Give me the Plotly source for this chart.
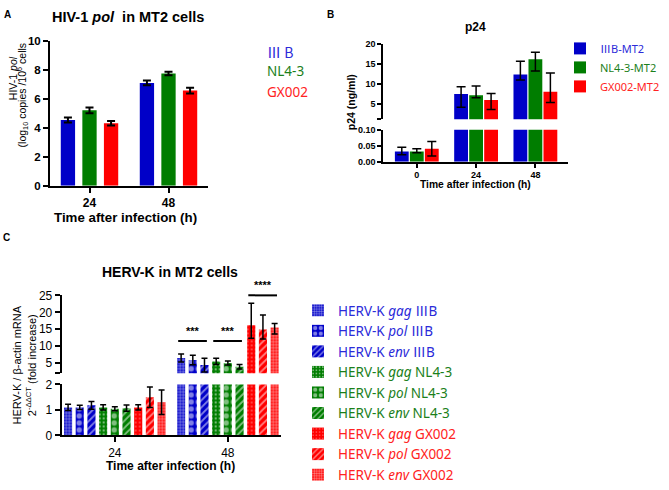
import plotly.graph_objects as go

W, H = 669, 490

# -- DATOS --

# Panel A: HIV-1 pol (log10 copias / 10^6 células)
a_tiempos = ["24", "48"]
a_iiib = [4.53, 7.09]
a_iiib_err = [0.17, 0.16]
a_nl43 = [5.20, 7.73]
a_nl43_err = [0.20, 0.12]
a_gx002 = [4.31, 6.56]
a_gx002_err = [0.15, 0.20]

# Panel B: p24 (ng/ml), barras de error asimétricas
b_tiempos = ["0", "24", "48"]
b_iiib = [0.032, 7.5, 12.4]
b_iiib_sup = [0.013, 1.8, 3.3]
b_iiib_inf = [0.010, 3.3, 1.4]
b_nl43 = [0.032, 7.2, 16.2]
b_nl43_sup = [0.009, 2.3, 1.8]
b_nl43_inf = [0.004, 0.6, 2.9]
b_gx002 = [0.041, 6.0, 8.1]
b_gx002_sup = [0.022, 1.65, 4.7]
b_gx002_inf = [0.023, 2.35, 2.7]

# Panel C: HERV-K / beta-actina (2^-ddCT)
c_tiempos = ["24", "48"]
c_iiib_gag = [1.10, 6.5]
c_iiib_gag_err = [0.12, 1.2]
c_iiib_pol = [1.10, 5.9]
c_iiib_pol_err = [0.08, 1.4]
c_iiib_env = [1.18, 4.4]
c_iiib_env_err = [0.15, 2.0]
c_nl43_gag = [1.10, 5.5]
c_nl43_gag_err = [0.10, 0.9]
c_nl43_pol = [1.05, 5.0]
c_nl43_pol_err = [0.08, 0.6]
c_nl43_env = [1.07, 3.9]
c_nl43_env_err = [0.12, 0.65]
c_gx_gag = [1.10, 16.2]
c_gx_gag_err = [0.10, 6.5]
c_gx_gag_errinf = [0.10, 3.9]
c_gx_pol = [1.50, 14.9]
c_gx_pol_err = [0.40, 4.3]
c_gx_pol_errinf = [0.40, 2.8]
c_gx_env = [1.30, 15.5]
c_gx_env_err = [0.48, 1.2]
c_gx_env_errinf = [0.48, 1.9]

# -- ESTILO --
FUENTE = "Arial, Liberation Sans, sans-serif"
FUENTE_LEY = "Noto Sans, Noto Sans CJK SC, sans-serif"
FUENTE_CJK = "Noto Sans CJK SC, Noto Sans, sans-serif"
AZUL, VERDE, ROJO = "#0000c8", "#007d00", "#ff0000"
AZUL_T, VERDE_T, ROJO_T = "#2b2bd9", "#1b801b", "#ff2222"
III = "<span style=\"font-family:'Noto Sans CJK SC'\">Ⅲ</span>"


def px_x(p):
    return p / W


def px_y(p):
    return 1 - p / H


def patron(forma, tam, solidez, color):
    return dict(shape=forma, size=tam, solidity=solidez, fgcolor="white",
                bgcolor=color, fillmode="overlay")


def agregar_barras(fig, series, cats, xa, ejes_y, slot, ancho, grosor, cap, leyenda=None, minimos=None):
    """Barras agrupadas con offset/width propios (cada panel tiene su separación).
    ejes_y: lista de ejes (eje cortado); minimos: valor inferior de cada eje, para no
    dibujar barras de error de puntos que quedan por debajo del tramo."""
    n = len(series)
    minimos = minimos or [None] * len(ejes_y)
    for i, s in enumerate(series):
        offset = -n * slot / 2 + i * slot + (slot - ancho) / 2
        for j, ya in enumerate(ejes_y):
            sup = list(s["sup"])
            inf = list(s.get("inf", s["sup"]))
            if minimos[j] is not None:
                sup = [e if v >= minimos[j] else 0 for v, e in zip(s["y"], sup)]
                inf = [e if v >= minimos[j] else 0 for v, e in zip(s["y"], inf)]
            err = dict(type="data", array=sup, arrayminus=inf, symmetric=False,
                       color="black", thickness=grosor, width=cap)
            marker = dict(color=s["color"], line=dict(width=0))
            if "patron" in s:
                marker["pattern"] = s["patron"]
            fig.add_trace(go.Bar(
                x=cats, y=s["y"], name=s["nombre"], xaxis=xa, yaxis=ya,
                offset=offset, width=ancho, marker=marker, error_y=err,
                showlegend=(leyenda is not None and j == 0),
                legend=leyenda if leyenda else "legend",
            ))


fig = go.Figure()

# Panel A
agregar_barras(fig, [
    dict(nombre="IIIB", y=a_iiib, sup=a_iiib_err, color=AZUL),
    dict(nombre="NL4-3", y=a_nl43, sup=a_nl43_err, color=VERDE),
    dict(nombre="GX002", y=a_gx002, sup=a_gx002_err, color=ROJO),
], a_tiempos, "x", ["y"], 0.273, 0.181, 2, 4)

# Panel B (eje y cortado: y2 abajo, y3 arriba)
agregar_barras(fig, [
    dict(nombre=f"<span style='color:{AZUL_T}'>{III}B-MT2</span>", y=b_iiib, sup=b_iiib_sup, inf=b_iiib_inf, color=AZUL),
    dict(nombre=f"<span style='color:{VERDE_T}'>NL4-3-MT2</span>", y=b_nl43, sup=b_nl43_sup, inf=b_nl43_inf, color=VERDE),
    dict(nombre=f"<span style='color:{ROJO_T}'>GX002-MT2</span>", y=b_gx002, sup=b_gx002_sup, inf=b_gx002_inf, color=ROJO),
], b_tiempos, "x2", ["y2", "y3"], 0.253, 0.233, 1.5, 4.5, leyenda="legend2", minimos=[None, 1.2])


# Panel C (eje y cortado: y4 abajo, y5 arriba)
def nombre_c(gen, cepa, color):
    return f"<span style='color:{color}'>HERV-K <i>{gen}</i> {cepa}</span>"


agregar_barras(fig, [
    dict(nombre=nombre_c("gag", III + "B", AZUL_T), y=c_iiib_gag, sup=c_iiib_gag_err, color=AZUL, patron=patron(".", 3, 0.5, AZUL)),
    dict(nombre=nombre_c("pol", III + "B", AZUL_T), y=c_iiib_pol, sup=c_iiib_pol_err, color=AZUL, patron=patron(".", 7, 0.45, AZUL)),
    dict(nombre=nombre_c("env", III + "B", AZUL_T), y=c_iiib_env, sup=c_iiib_env_err, color=AZUL, patron=patron("/", 5, 0.35, AZUL)),
    dict(nombre=nombre_c("gag", "NL4-3", VERDE_T), y=c_nl43_gag, sup=c_nl43_gag_err, color=VERDE, patron=patron(".", 4, 0.25, VERDE)),
    dict(nombre=nombre_c("pol", "NL4-3", VERDE_T), y=c_nl43_pol, sup=c_nl43_pol_err, color=VERDE, patron=patron(".", 7, 0.45, VERDE)),
    dict(nombre=nombre_c("env", "NL4-3", VERDE_T), y=c_nl43_env, sup=c_nl43_env_err, color=VERDE, patron=patron("/", 5, 0.35, VERDE)),
    dict(nombre=nombre_c("gag", "GX002", ROJO_T), y=c_gx_gag, sup=c_gx_gag_err, inf=c_gx_gag_errinf, color=ROJO, patron=patron(".", 4, 0.15, ROJO)),
    dict(nombre=nombre_c("pol", "GX002", ROJO_T), y=c_gx_pol, sup=c_gx_pol_err, inf=c_gx_pol_errinf, color=ROJO, patron=patron("/", 5, 0.35, ROJO)),
    dict(nombre=nombre_c("env", "GX002", ROJO_T), y=c_gx_env, sup=c_gx_env_err, inf=c_gx_env_errinf, color=ROJO, patron=patron(".", 3, 0.5, ROJO)),
], c_tiempos, "x3", ["y4", "y5"], 0.1034, 0.072, 1.5, 3, leyenda="legend3", minimos=[None, 2])


def eje(lw=2, tl=5, tam=12, negrita=True, **kw):
    d = dict(showline=True, linecolor="black", linewidth=lw, ticks="outside",
             ticklen=tl, tickwidth=lw, tickcolor="black", showgrid=False, zeroline=False,
             tickfont=dict(family=FUENTE, size=tam, color="black",
                           weight="bold" if negrita else "normal"),
             fixedrange=True)
    d.update(kw)
    return d


C_UP = (2, 25)
C_UP_DOM = (px_y(381), px_y(300))

fig.update_layout(
    width=W, height=H,
    margin=dict(l=0, r=0, t=0, b=0),
    paper_bgcolor="white", plot_bgcolor="white",
    barmode="group",
    font=dict(family=FUENTE, color="black"),
    # Panel A
    xaxis=eje(domain=[px_x(50), px_x(208)], anchor="y", type="category", range=[-0.5, 1.5]),
    yaxis=eje(domain=[px_y(186), px_y(35)], anchor="x", range=[0, 10], tickvals=[0, 2, 4, 6, 8, 10], tam=11.5),
    # Panel B
    xaxis2=eje(lw=1.5, tl=4, tam=9, domain=[px_x(383), px_x(568)], anchor="y2", type="category", range=[-0.57, 2.55]),
    yaxis2=eje(lw=1.5, tl=4, tam=9, domain=[px_y(161), px_y(127.7)], anchor="x2", range=[0, 0.1],
               tickvals=[0, 0.05, 0.1], ticktext=["0.00", "0.05", "0.10"]),
    yaxis3=eje(lw=1.5, tl=4, tam=9, domain=[px_y(116.7), px_y(38.7)], anchor="x2", range=[1.2, 20],
               tickvals=[1.2, 5, 10, 15, 20], ticktext=["", "5", "10", "15", "20"]),
    # Panel C
    xaxis3=eje(negrita=False, domain=[px_x(61.7), px_x(281)], anchor="y4", type="category", range=[-0.47, 1.47]),
    yaxis4=eje(negrita=False, domain=[px_y(445.7), px_y(392.7)], anchor="x3", range=[0, 2], tickvals=[0, 1, 2]),
    yaxis5=eje(negrita=False, domain=list(C_UP_DOM), anchor="x3", range=list(C_UP),
               tickvals=[2, 5, 10, 15, 20, 25], ticktext=["", "5", "10", "15", "20", "25"]),
    legend2=dict(x=px_x(560), y=px_y(28), xanchor="left", yanchor="top", bgcolor="rgba(0,0,0,0)",
                 font=dict(family=FUENTE_LEY, size=11), itemwidth=30, itemclick=False),
    legend3=dict(x=px_x(298), y=px_y(300), xanchor="left", yanchor="top", bgcolor="rgba(0,0,0,0)",
                 font=dict(family=FUENTE_LEY, size=13.5), itemwidth=30, itemclick=False),
    showlegend=True,
)


def c_up_paper(v):
    lo, hi = C_UP
    return C_UP_DOM[0] + (v - lo) / (hi - lo) * (C_UP_DOM[1] - C_UP_DOM[0])


# Líneas de significancia (panel C, grupo 48 h)
slot_c, ancho_c = 0.1034, 0.072


def borde_barra(k, lado):
    centro = 1 - 9 * slot_c / 2 + (k + 0.5) * slot_c
    return centro + lado * ancho_c / 2


signif = [(0, 2, 11.5, "***"), (3, 5, 11.5, "***"), (6, 8, 25, "****")]
anots = []
for k0, k1, yv, txt in signif:
    x0, x1 = borde_barra(k0, -1) + 0.01, borde_barra(k1, 1) - 0.015
    yp = c_up_paper(yv)
    fig.add_shape(type="line", xref="x3", yref="paper", x0=x0, x1=x1, y0=yp, y1=yp,
                  line=dict(color="black", width=2))
    anots.append(dict(text=f"<b>{txt}</b>", xref="x3", yref="paper", x=(x0 + x1) / 2, y=yp,
                      yshift=2, yanchor="bottom", font=dict(size=11, color="black")))


def nota(texto, x, y, tam, angulo=0, xanchor="center", color="black", familia=FUENTE):
    return dict(text=texto, xref="paper", yref="paper", x=px_x(x), y=px_y(y),
                xanchor=xanchor, yanchor="middle", textangle=angulo, showarrow=False,
                font=dict(family=familia, size=tam, color=color))


anots += [
    # Panel A
    nota("<b>A</b>", 7, 8, 10),
    nota("<b>HIV-1 <i>pol</i>  in MT2 cells</b>", 128, 10, 14.5),
    nota("HIV-1 <i>pol</i>", 13, 74, 10.5, -90),
    nota("(log<sub>10</sub> copies /10<sup>6</sup> cells", 23, 92, 10.5, -90),
    nota("<b>Time after infection (h)</b>", 125, 219, 13.3),
    nota("Ⅲ B", 265, 46.7, 14, xanchor="left", color=AZUL_T, familia=FUENTE_CJK),
    nota("NL4-3", 265, 66.7, 13.5, xanchor="left", color=VERDE_T, familia=FUENTE_LEY),
    nota("GX002", 265, 88.3, 13.5, xanchor="left", color=ROJO_T, familia=FUENTE_LEY),
    # Panel B
    nota("<b>B</b>", 330, 8, 10),
    nota("<b>p24</b>", 475, 21, 12),
    nota("<b>p24 (ng/ml)</b>", 351, 99, 10.5, -90),
    nota("<b>Time after infection (h)</b>", 475, 185, 10.3),
    # Panel C
    nota("<b>C</b>", 6, 240, 10),
    nota("<b>HERV-K in MT2 cells</b>", 170, 276, 14),
    nota("HERV-K / β-actin mRNA<br>2<sup>-ΔΔCT</sup> (fold increase)", 24, 373, 11, -90),
    nota("<b>Time after infection (h)</b>", 170, 478, 12),
]
for a in anots:
    a.setdefault("showarrow", False)
    a.setdefault("xanchor", "center")
    fig.add_annotation(**a)

# el body trae 8px de margen por defecto; se quita para que la figura ocupe la ventana
fig.write_html("out.html", config={"displayModeBar": False},
               post_script="document.body.style.margin='0px';")
